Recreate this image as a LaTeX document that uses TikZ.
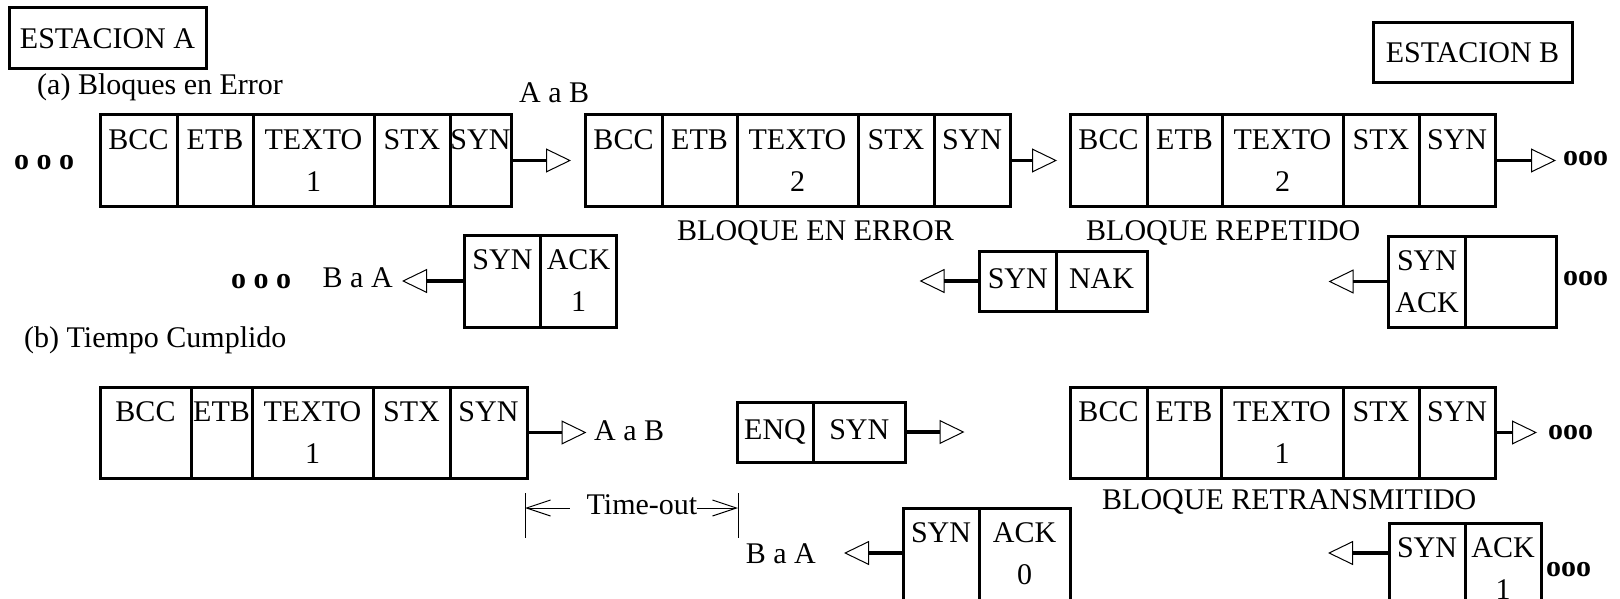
\documentclass[tikz,border=0pt]{standalone}
\usepackage{fontspec}
\setmainfont{Liberation Serif}
\usetikzlibrary{positioning, arrows.meta}

\begin{document}
\begin{tikzpicture}[
		x=1pt, y=-1pt,
		font=\fontsize{30}{42}\selectfont,
		cell/.style={draw, rectangle, line width=3pt, minimum height=91, inner sep=0pt, outer sep=0pt, align=center, anchor=north west, execute at begin node={\rule{0pt}{25pt}}},
		cellone/.style={cell, minimum height=60, execute at begin node={\rule[-10pt]{0pt}{10pt}}},
		station/.style={draw, rectangle, line width=3pt, inner sep=0pt},
		lbl/.style={inner sep=0pt, anchor=base west},
		etc/.style={inner sep=0pt, anchor=base west, font=\fontsize{30}{42}\selectfont\bfseries},
		flow/.style={line width=3.5pt, -{Triangle[open, length=25pt, width=24pt, line width=1pt]}},
		tmarrow/.style={line width=1pt, -{Straight Barb[length=24pt, width=16pt]}}
		]
		
		\useasboundingbox (0,0) rectangle (1620,599);
		\clip (0,0) rectangle (1620,599);
		
		% Nodes
		\node[station, minimum width=197, minimum height=61] (sta) at (107.5,38.5) {ESTACION A};
		\node[station, minimum width=199, minimum height=60] (stb) at (1472.5,53) {ESTACION B};
		
		\node[lbl] (parta) at (37,95) {(a) Bloques en Error};
		\node[lbl] (atob1) at (519,103) {A a B};
		\node[etc] (dots1) at (14,169) {o o o};
		
		\node[cell, minimum width=77] (f1bcc) at (100,115) {BCC\\~};
		\node[cell, minimum width=76, right=0pt of f1bcc] (f1etb) {ETB\\~};
		\node[cell, minimum width=121, right=0pt of f1etb] (f1txt) {TEXTO\\1};
		\node[cell, minimum width=76, right=0pt of f1txt] (f1stx) {STX\\~};
		\node[cell, minimum width=61, right=0pt of f1stx] (f1syn) {SYN\\~};
		
		\node[cell, minimum width=77] (f2bcc) at (585,115) {BCC\\~};
		\node[cell, minimum width=75, right=0pt of f2bcc] (f2etb) {ETB\\~};
		\node[cell, minimum width=121, right=0pt of f2etb] (f2txt) {TEXTO\\2};
		\node[cell, minimum width=76, right=0pt of f2txt] (f2stx) {STX\\~};
		\node[cell, minimum width=76, right=0pt of f2stx] (f2syn) {SYN\\~};
		
		\node[cell, minimum width=77] (f3bcc) at (1070,115) {BCC\\~};
		\node[cell, minimum width=75, right=0pt of f3bcc] (f3etb) {ETB\\~};
		\node[cell, minimum width=121, right=0pt of f3etb] (f3txt) {TEXTO\\2};
		\node[cell, minimum width=76, right=0pt of f3txt] (f3stx) {STX\\~};
		\node[cell, minimum width=76, right=0pt of f3stx] (f3syn) {SYN\\~};
		\node[etc] (dots2) at (1563,165) {ooo};
		
		\node[lbl] (err) at (677,240) {BLOQUE EN ERROR};
		\node[lbl] (rep) at (1086,240) {BLOQUE REPETIDO};
		
		\node[etc] (dots3) at (231,288) {o o o};
		\node[lbl] (btoa1) at (322.5,287) {B a A};
		\node[cell, minimum width=76, minimum height=92] (ka1) at (464.5,235) {SYN\\~};
		\node[cell, minimum width=76, minimum height=92, right=0pt of ka1] (ka2) {ACK\\1};
		
		\node[cellone, minimum width=76.5] (na1) at (979.5,251) {SYN};
		\node[cellone, minimum width=91, right=0pt of na1] (na2) {NAK};
		
		\node[cell, minimum width=77] (ra1) at (1388.5,236) {SYN\\ACK};
		\node[cell, minimum width=90.5, right=0pt of ra1] (ra2) {};
		\node[etc] (dots4) at (1563,285) {ooo};
		
		\node[lbl] (partb) at (24,347) {(b) Tiempo Cumplido};
		
		\node[cell, minimum width=91] (f4bcc) at (100,387) {BCC\\~};
		\node[cell, minimum width=61, right=0pt of f4bcc] (f4etb) {ETB\\~};
		\node[cell, minimum width=121, right=0pt of f4etb] (f4txt) {TEXTO\\1};
		\node[cell, minimum width=77, right=0pt of f4txt] (f4stx) {STX\\~};
		\node[cell, minimum width=77, right=0pt of f4stx] (f4syn) {SYN\\~};
		\node[lbl] (atob2) at (594,440) {A a B};
		
		\node[cellone, minimum width=76] (eq1) at (737,402) {ENQ};
		\node[cellone, minimum width=92.5, right=0pt of eq1] (eq2) {SYN};
		
		\node[cell, minimum width=77] (f5bcc) at (1070,387) {BCC\\~};
		\node[cell, minimum width=74, right=0pt of f5bcc] (f5etb) {ETB\\~};
		\node[cell, minimum width=122, right=0pt of f5etb] (f5txt) {TEXTO\\1};
		\node[cell, minimum width=76, right=0pt of f5txt] (f5stx) {STX\\~};
		\node[cell, minimum width=76, right=0pt of f5stx] (f5syn) {SYN\\~};
		\node[etc] (dots5) at (1548,439) {ooo};
		
		\node[lbl] (ret) at (1102,509) {BLOQUE RETRANSMITIDO};
		\node[lbl] (tout) at (586.5,514) {Time-out};
		
		\node[lbl] (btoa2) at (745.6,563) {B a A};
		\node[cell, minimum width=76, minimum height=92] (kb1) at (903,508) {SYN\\~};
		\node[cell, minimum width=91, minimum height=92, right=0pt of kb1] (kb2) {ACK\\0};
		
		\node[cell, minimum width=76, minimum height=92] (kc1) at (1389,523) {SYN\\~};
		\node[cell, minimum width=76, minimum height=92, right=0pt of kc1] (kc2) {ACK\\1};
		\node[etc] (dots6) at (1546,576) {ooo};
		
		% Free ends
		\coordinate (tf1) at (571,160.5);
		\coordinate (tf2) at (1057,160.5);
		\coordinate (tf3) at (1556,160.5);
		\coordinate (tka) at (402,281);
		\coordinate (tna) at (919.5,281);
		\coordinate (tra) at (1328.5,281.5);
		\coordinate (tf4) at (586.5,432.5);
		\coordinate (teq) at (964.5,432);
		\coordinate (tf5) at (1537,432.5);
		\coordinate (tkb) at (844,553);
		\coordinate (tkc) at (1328,553);
		\coordinate (tl1) at (525,493);
		\coordinate (tl2) at (525,538);
		\coordinate (tr1) at (738,493);
		\coordinate (tr2) at (738,538);
		\coordinate (tla) at (525,508);
		\coordinate (tra2) at (738,508);
		
		% Arrows
		\draw[flow] (f1syn.east) -- (tf1);
		\draw[flow] (f2syn.east) -- (tf2);
		\draw[flow] (f3syn.east) -- (tf3);
		\draw[flow] (ka1.west) -- (tka);
		\draw[flow] (na1.west) -- (tna);
		\draw[flow] (ra1.west) -- (tra);
		\draw[flow] (f4syn.east) -- (tf4);
		\draw[flow] (eq2.east) -- (teq);
		\draw[flow] (f5syn.east) -- (tf5);
		\draw[flow] (kb1.west |- tkb) -- (tkb);
		\draw[flow] (kc1.west |- tkc) -- (tkc);
		
		% Time-out
		\draw[line width=1pt] (tl1) -- (tl2);
		\draw[line width=1pt] (tr1) -- (tr2);
		\draw[tmarrow] ([xshift=-17pt]tout.west |- tla) -- (tla);
		\draw[tmarrow] (tout.east |- tra2) -- (tra2);
		
	\end{tikzpicture}
\end{document}
